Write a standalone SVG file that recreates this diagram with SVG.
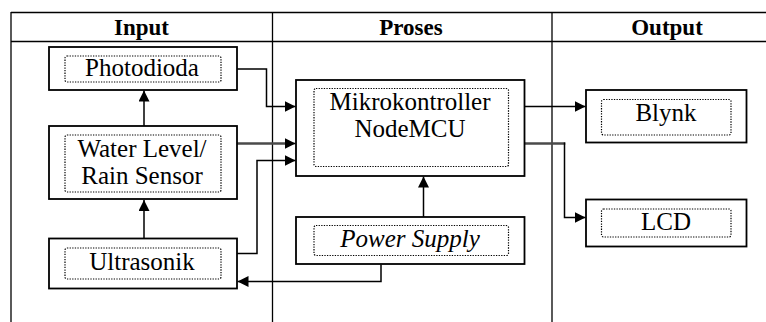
<svg xmlns="http://www.w3.org/2000/svg" width="766" height="322" viewBox="0 0 766 322">
<style>
.tbl{stroke:#000;stroke-width:1.3;fill:none}
.box{fill:#fff;stroke:#000;stroke-width:1.8}
.inner{fill:none;stroke:#000;stroke-width:1.2;stroke-dasharray:1.3 1.3}
.hdr{font-weight:bold;font-size:23px;fill:#000;text-anchor:middle}
.lbl{font-size:25px;fill:#000;text-anchor:middle}
.con{fill:none;stroke:#000;stroke-width:1.5}
.thick{fill:none;stroke:#4a4a4a;stroke-width:2.6}
</style>
<defs>
<marker id="ah" viewBox="0 0 10 10" refX="10" refY="5" markerWidth="11" markerHeight="11" markerUnits="userSpaceOnUse" orient="auto">
<path d="M0,0 L10,5 L0,10 z" fill="#000"/>
</marker>
</defs>
<rect width="766" height="322" fill="#fff"/>
<g id="table" font-family="Liberation Serif, Times New Roman, serif">
<line class="tbl" x1="11" y1="12.5" x2="766" y2="12.5"/>
<line class="tbl" x1="11" y1="41.5" x2="766" y2="41.5"/>
<line class="tbl" x1="11" y1="12" x2="11" y2="322"/>
<line class="tbl" x1="272.5" y1="12" x2="272.5" y2="322"/>
<line class="tbl" x1="552" y1="12" x2="552" y2="322"/>
<text class="hdr" x="141.5" y="35">Input</text>
<text class="hdr" x="411" y="35">Proses</text>
<text class="hdr" x="667" y="35">Output</text>
</g>
<g id="connectors">
<path class="con" d="M144,126 V90.5" marker-end="url(#ah)"/>
<path class="con" d="M144,238.5 V200" marker-end="url(#ah)"/>
<path class="con" d="M237,69 H266.5 V106.5 H295.5" marker-end="url(#ah)"/>
<path class="thick" d="M237,143.5 H290" />
<path class="con" d="M285,143.5 H295.5" marker-end="url(#ah)"/>
<path class="con" d="M237,253.5 H257 V160.5 H295.5" marker-end="url(#ah)"/>
<path class="con" d="M423.5,217 V176.5" marker-end="url(#ah)"/>
<path class="con" d="M381,264.5 V281.5 H237.5" marker-end="url(#ah)"/>
<path class="con" d="M524.5,106.5 H585.5" marker-end="url(#ah)"/>
<path class="thick" d="M524.5,143.5 H565.3"/>
<path class="con" d="M564.5,142.5 V217.5 H585.5" marker-end="url(#ah)"/>
</g>
<g id="nodes" font-family="Liberation Serif, Times New Roman, serif">
<g id="photodioda">
<rect class="box" x="49" y="47" width="188" height="43"/>
<rect class="inner" x="65" y="56" width="156" height="26" rx="2"/>
<text class="lbl" x="142" y="76">Photodioda</text>
</g>
<g id="waterlevel">
<rect class="box" x="49" y="126" width="188" height="73"/>
<rect class="inner" x="65" y="135" width="156" height="57" rx="2"/>
<text class="lbl" x="142" y="157">Water Level/</text>
<text class="lbl" x="142" y="184">Rain Sensor</text>
</g>
<g id="ultrasonik">
<rect class="box" x="49" y="238.5" width="188" height="50"/>
<rect class="inner" x="65" y="248" width="156" height="31" rx="2"/>
<text class="lbl" x="142" y="270">Ultrasonik</text>
</g>
<g id="mikrokontroller">
<rect class="box" x="296" y="80" width="228.5" height="96"/>
<rect class="inner" x="314" y="88.5" width="194.5" height="78" rx="2"/>
<text class="lbl" x="410" y="110">Mikrokontroller</text>
<text class="lbl" x="410" y="137">NodeMCU</text>
</g>
<g id="powersupply">
<rect class="box" x="296" y="217" width="228.5" height="47"/>
<rect class="inner" x="314" y="225.5" width="194.5" height="30" rx="2"/>
<text class="lbl" x="410" y="247" font-style="italic">Power Supply</text>
</g>
<g id="blynk">
<rect class="box" x="586" y="90" width="160.5" height="52.5"/>
<rect class="inner" x="601.5" y="99.5" width="129.5" height="35.5" rx="2"/>
<text class="lbl" x="666" y="121">Blynk</text>
</g>
<g id="lcd">
<rect class="box" x="586" y="199.5" width="160.5" height="47"/>
<rect class="inner" x="601.5" y="209" width="129.5" height="28" rx="2"/>
<text class="lbl" x="666" y="230">LCD</text>
</g>
</g>
</svg>
